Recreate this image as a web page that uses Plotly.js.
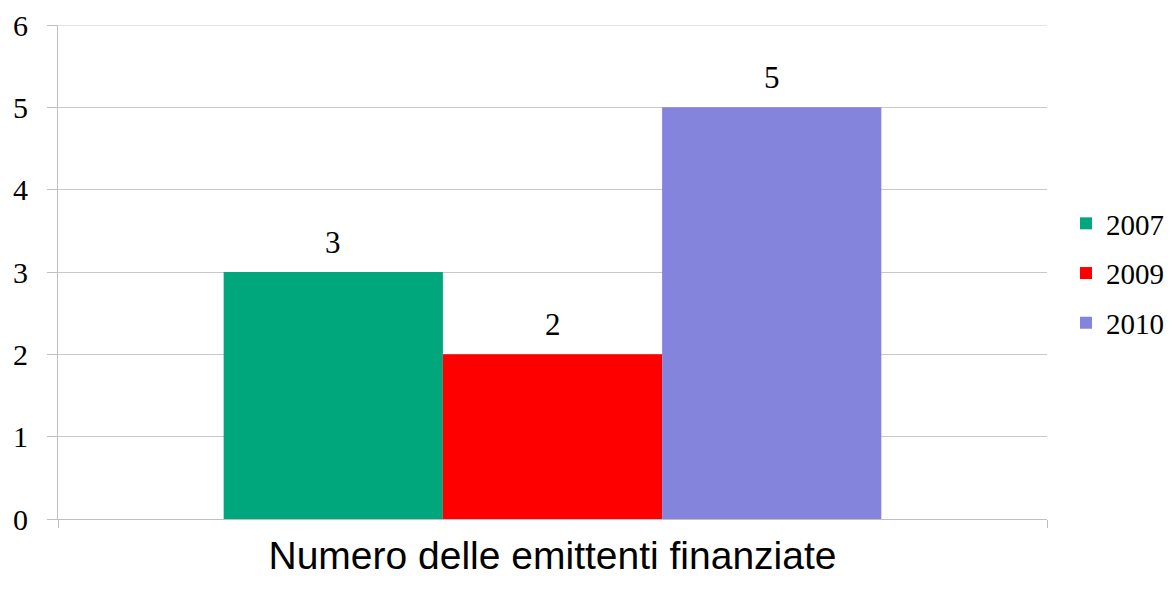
<!DOCTYPE html>
<html><head><meta charset="utf-8">
<script src="https://cdn.plot.ly/plotly-3.0.1.min.js"></script>
<style>body{margin:0;background:#fff}#c{width:1174px;height:591px}</style>
</head><body><div id="c"></div>
<script>
const category = ["Numero delle emittenti finanziate"];
const seriesNames = ["2007", "2009", "2010"];
const seriesValues = [[3], [2], [5]];
const colors = ["#00A67C", "#FF0000", "#8484DC"];
const yTicks = [0, 1, 2, 3, 4, 5, 6];

const serif = "Liberation Serif, Times New Roman, serif";
const bargap = 0.335;
const barW = (1 - bargap) / seriesNames.length;

const traces = seriesNames.map((n, i) => ({
  type: "bar", name: n, x: category, y: seriesValues[i],
  marker: {color: colors[i]}, legendgroup: n
}));
const annotations = [];
seriesNames.forEach((n, i) => {
  seriesValues[i].forEach((v, j) => {
    annotations.push({
      x: j + (i - (seriesNames.length - 1) / 2) * barW, y: v,
      xref: "x", yref: "y", text: String(v), showarrow: false,
      yanchor: "bottom", yshift: 10,
      font: {family: serif, size: 31, color: "#000"}
    });
  });
});
const layout = {
  width: 1174, height: 591,
  margin: {l: 58, r: 127, t: 25, b: 72},
  paper_bgcolor: "#fff", plot_bgcolor: "#fff",
  barmode: "group", bargap: bargap, bargroupgap: 0,
  showlegend: true,
  legend: {xref: "container", yref: "container", x: 0.908, y: 0.665,
    xanchor: "left", yanchor: "top",
    traceorder: "grouped", tracegroupgap: 9,
    font: {family: serif, size: 29, color: "#000"}},
  annotations: annotations,
  shapes: [{type: "line", xref: "paper", yref: "y", x0: 0, x1: 1,
    y0: yTicks[yTicks.length - 1], y1: yTicks[yTicks.length - 1],
    line: {color: "#C8C8C8", width: 1}, layer: "below"}],
  xaxis: {showline: true, linecolor: "#BFBFBF", linewidth: 1,
    ticks: "outside", tickson: "boundaries", ticklen: 8, tickcolor: "#BFBFBF",
    showticklabels: false,
    title: {text: "Numero delle emittenti finanziate", standoff: 22,
      font: {family: "Liberation Sans, Arial, sans-serif", size: 39, color: "#000"}}},
  yaxis: {range: [0, 6], tickvals: yTicks, showline: true, linecolor: "#BFBFBF",
    gridcolor: "#C8C8C8", ticks: "outside", ticklen: 10, tickcolor: "#BFBFBF",
    ticklabelstandoff: 13,
    zeroline: false, tickfont: {family: serif, size: 30, color: "#000"}}
};
Plotly.newPlot("c", traces, layout, {displayModeBar: false});
</script></body></html>
